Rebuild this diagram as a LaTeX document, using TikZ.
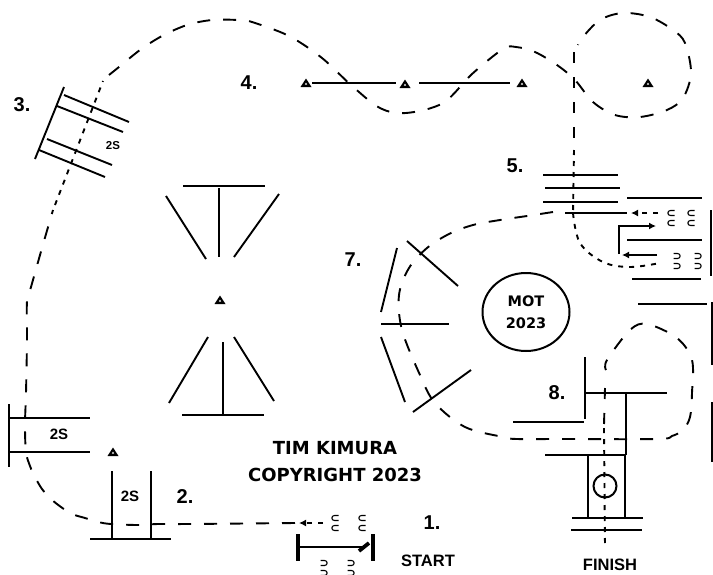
\documentclass[tikz,border=0pt]{standalone}
\usepackage{fontspec}
\setmainfont{Liberation Sans}
\newfontfamily\roundfont{DejaVu Sans}
\usetikzlibrary{arrows.meta,shapes.geometric}
\tikzset{
  solidline/.style={line width=1.9pt,black},
  thickline/.style={line width=3.8pt,black},
  courseline/.style={line width=1.9pt,black,dash pattern=on 13pt off 13pt},
  dashline/.style={line width=1.9pt,black,dash pattern=on 11pt off 14pt},
  dotline/.style={line width=1.9pt,black,dash pattern=on 5pt off 6pt},
  conemark/.style={line width=1.1pt,black},
  numlabel/.style={font=\fontsize{20}{22}\selectfont\bfseries,inner sep=0pt},
  smalllabel/.style={font=\fontsize{15}{17}\selectfont\bfseries,inner sep=0pt},
  endlabel/.style={font=\fontsize{16.5}{18}\selectfont\bfseries,inner sep=0pt},
  titlelabel/.style={font=\roundfont\fontsize{18}{20}\selectfont\bfseries,inner sep=0pt},
  arrowline/.style={-{Latex[length=7pt,width=7pt]}},
}
\newcommand{\triMark}[2]{%
  \fill[black] (#1-5.5,#2+4) -- (#1,#2-4.5) -- (#1+5.5,#2+4) -- cycle;
  \fill[white] (#1-1.2,#2+1.7) -- (#1,#2-0.4) -- (#1+1.2,#2+1.7) -- cycle;}
\newcommand{\coneL}[2]{\draw[conemark] (#1+3.5,#2-2.5) -- (#1-0.5,#2-2.5) .. controls (#1-4,#2-2.5) and (#1-4,#2+2.5) .. (#1-0.5,#2+2.5) -- (#1+3.5,#2+2.5);}
\newcommand{\coneR}[2]{\draw[conemark] (#1-3.5,#2-2.5) -- (#1+0.5,#2-2.5) .. controls (#1+4,#2-2.5) and (#1+4,#2+2.5) .. (#1+0.5,#2+2.5) -- (#1-3.5,#2+2.5);}
\begin{document}
\begin{tikzpicture}[x=1pt,y=-1pt]
\useasboundingbox (0,0) rectangle (713,574);
\fill[white] (0,0) rectangle (713,574);
% course
\draw[courseline] plot[smooth,tension=0.55] coordinates {(295,523) (190,524) (158,524) (138,525) (111,524) (98,522) (85,518) (72,514) (61,507) (51,499) (42,489) (35,477) (30,466) (26,452) (25,425) (26,393) (27,340) (27,301) (31,287) (42,248) (53,210)};
\draw[dotline] (55,205) -- (103,81);
\draw[courseline] plot[smooth,tension=0.55] coordinates {(109,75) (119,67) (140,50) (162,36) (187,25) (212,20) (238,20) (252,22) (289,36) (322,58) (351,85) (380,108) (406,113) (443,103) (472,74) (503,49) (516,47) (535,52) (557,65) (575,80) (593,102) (615,115) (640,117) (667,110) (683,98) (691,73) (685,43) (673,30) (650,17) (623,13) (600,20) (582,38) (578,45)};
\draw[dashline] (574,52) -- (574,145);
\draw[dotline] (574,150) -- (573,213);
\draw[dotline] plot[smooth,tension=0.6] coordinates {(573,213) (580,243) (603,262) (630,267) (660,263)};
\draw[courseline] plot[smooth,tension=0.55] coordinates {(553,212) (527,216) (500,220) (473,225) (449,234) (427,248) (409,268) (399,295) (402,330) (420,375) (435,403) (465,427) (503,437) (517,439) (560,439) (657,439) (672,436) (683,430) (690,417) (692,393) (692,360) (677,338) (647,324) (630,330) (607,360) (606,370)};
\draw[dashline] (605,388) -- (604,425);
\draw[dotline] (604,428) -- (605,547);
% station 1
\draw[thickline] (298,534) -- (298,561);
\draw[thickline] (373,534) -- (373,561);
\draw[solidline] (300,547) -- (363,547);
\draw[thickline] (359,551) -- (369,543);
\coordinate (a1s) at (323,523); \coordinate (a1e) at (299,523);
\draw[dotline,arrowline] (a1s) -- (a1e);
\coneL{335}{518}\coneL{335}{528}\coneL{362}{518}\coneL{362}{528}
\coneR{324}{563}\coneR{324}{573}\coneR{351}{563}\coneR{351}{573}
% station 2
\draw[solidline] (112,471) -- (112,539);
\draw[solidline] (151,471) -- (151,539);
\draw[solidline] (90,539) -- (171,539);
% left gate
\draw[solidline] (9,404) -- (9,467);
\draw[solidline] (9,418) -- (90,418);
\draw[solidline] (9,452) -- (90,452);
\triMark{113}{452}
% station 3
\draw[solidline] (64,87) -- (35,159);
\draw[solidline] (64,95) -- (129,122);
\draw[solidline] (57,106) -- (123,132);
\draw[solidline] (47,139) -- (112,165);
\draw[solidline] (39,150) -- (105,177);
% station 4
\triMark{306}{83}\triMark{405}{84}\triMark{522}{83}\triMark{648}{83}
\draw[solidline] (312,83) -- (396,83);
\draw[solidline] (419,83) -- (510,83);
% centre
\triMark{220}{300}
\draw[solidline] (183,186) -- (265,186);
\draw[solidline] (219,188) -- (219,257);
\draw[solidline] (166,196) -- (206,259);
\draw[solidline] (279,194) -- (234,257);
\draw[solidline] (223,342) -- (223,414);
\draw[solidline] (182,415) -- (264,415);
\draw[solidline] (208,337) -- (169,403);
\draw[solidline] (234,337) -- (274,401);
% station 5
\draw[solidline] (543,175) -- (618,175);
\draw[solidline] (545,188) -- (620,188);
\draw[solidline] (543,202) -- (618,202);
\draw[solidline] (565,213) -- (627,213);
\draw[solidline] (627,198) -- (702,198);
\draw[solidline] (627,240) -- (702,240);
\draw[solidline] (632,279) -- (701,279);
\draw[solidline] (711,210) -- (711,276);
\coordinate (a5s) at (658,213); \coordinate (a5e) at (631,213);
\draw[dotline,arrowline] (a5s) -- (a5e);
\coordinate (a6a) at (619,254); \coordinate (a6b) at (619,226); \coordinate (a6c) at (656,226);
\draw[solidline,arrowline] (a6a) -- (a6b) -- (a6c);
\coordinate (a7s) at (657,255); \coordinate (a7e) at (622,255);
\draw[solidline,arrowline] (a7s) -- (a7e);
\coneL{671}{213}\coneL{671}{223}\coneL{691}{213}\coneL{691}{223}
\coneR{677}{256}\coneR{677}{266}\coneR{698}{256}\coneR{698}{266}
% station 7
\draw[solidline] (381,324) -- (449,324);
\draw[solidline] (397,248) -- (381,312);
\draw[solidline] (407,241) -- (458,286);
\draw[solidline] (381,337) -- (405,402);
\draw[solidline] (413,412) -- (471,370);
\node[draw,line width=2pt,ellipse,minimum width=87pt,minimum height=78pt,inner sep=0pt,align=center,font=\roundfont\fontsize{14.5}{22}\selectfont\bfseries] (mot) at (526,312) {MOT\\2023};
% station 8
\draw[solidline] (585,357) -- (585,419);
\draw[solidline] (513,422) -- (584,422);
\draw[solidline] (585,393) -- (667,393);
\draw[solidline] (626,393) -- (626,455);
\draw[solidline] (545,455) -- (626,455);
\draw[solidline] (588,455) -- (588,518);
\draw[solidline] (625,455) -- (625,518);
\draw[solidline] (572,518) -- (643,518);
\draw[solidline] (571,530) -- (642,530);
\draw[solidline] (638,304) -- (707,304);
\draw[solidline] (712,302) -- (712,365);
\draw[solidline] (712,402) -- (712,462);
\node[draw,circle,line width=2pt,minimum size=23pt,inner sep=0pt] (ball) at (605,486) {};
% labels
\node[numlabel] (l1) at (432,523) {1.};
\node[numlabel] (l2) at (185,497) {2.};
\node[numlabel] (l3) at (22,105) {3.};
\node[numlabel] (l4) at (249,83) {4.};
\node[numlabel] (l5) at (515,166) {5.};
\node[numlabel] (l7) at (353,260) {7.};
\node[numlabel] (l8) at (557,393) {8.};
\node[smalllabel] (s1) at (59,434) {2S};
\node[smalllabel] (s2) at (130,496) {2S};
\node[inner sep=0pt,font=\fontsize{11.5}{13}\selectfont\bfseries] (s3) at (113,146) {2S};
\node[endlabel] (start) at (428,561) {START};
\node[endlabel] (finish) at (610,565) {FINISH};
\node[titlelabel] (title1) at (335,448) {TIM KIMURA};
\node[titlelabel] (title2) at (335,475) {COPYRIGHT 2023};
\end{tikzpicture}
\end{document}
